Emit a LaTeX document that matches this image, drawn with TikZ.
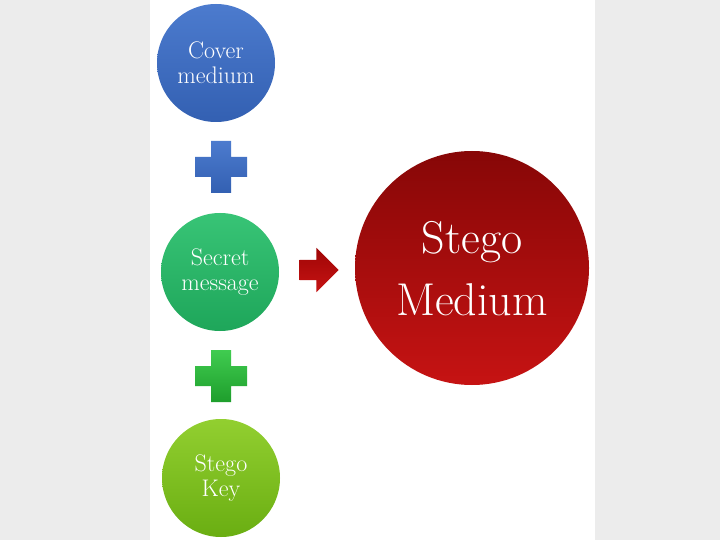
\documentclass[tikz,border=0pt]{standalone}
\usetikzlibrary{positioning,shapes.arrows}
\definecolor{paper}{HTML}{ECECEC}
\definecolor{blueTop}{HTML}{4C7BCE}
\definecolor{blueBot}{HTML}{3360B2}
\definecolor{greenTop}{HTML}{38C476}
\definecolor{greenBot}{HTML}{1EA65A}
\definecolor{limeTop}{HTML}{92CF30}
\definecolor{limeBot}{HTML}{6AAE12}
\definecolor{redTop}{HTML}{870707}
\definecolor{redBot}{HTML}{C61313}
\definecolor{plusGreenTop}{HTML}{40CC50}
\definecolor{plusGreenBot}{HTML}{1E9E2C}
\tikzset{
bubble/.style={circle, inner sep=0pt, minimum size=118pt, align=center, text=white,
               font=\fontsize{24}{25}\selectfont},
bigbubble/.style={bubble, minimum size=234pt, font=\fontsize{46}{62}\selectfont},
plussign/.pic={
  \path[pic actions] (-10,-26) -- (10,-26) -- (10,-10) -- (26,-10) -- (26,10) -- (10,10)
     -- (10,26) -- (-10,26) -- (-10,10) -- (-26,10) -- (-26,-10) -- (-10,-10) -- cycle;
}
}

\begin{document}
\begin{tikzpicture}[x=1pt, y=-1pt]

% page and panel
\fill[paper] (0,0) rectangle (720,540);
\fill[white] (150,0) rectangle (595,540);
\useasboundingbox (0,0) rectangle (720,540);

% circles
\node[bubble, top color=blueTop, bottom color=blueBot] (cover) at(216,63) {Cover\\medium};
\node[bubble, top color=greenTop, bottom color=greenBot] (secret) at(220,272) {Secret\\message};
\node[bubble, top color=limeTop, bottom color=limeBot] (key) at(221,478) {Stego\\Key};
\node[bigbubble, top color=redTop, bottom color=redBot, text depth=0pt] (stego) at(472,268) {Stego\\Medium};

% plus signs
\pic[top color=blueTop, bottom color=blueBot] (plusA) at(221,167) {plussign};
\pic[top color=plusGreenTop, bottom color=plusGreenBot] (plusB) at(221,376) {plussign};

% arrow
\node[single arrow, top color=redTop!80!red, bottom color=redBot, inner xsep=0pt, inner ysep=10pt,
      minimum height=39pt, single arrow head extend=12pt] (arrow) at(314,270) {};

\end{tikzpicture}
\end{document}
